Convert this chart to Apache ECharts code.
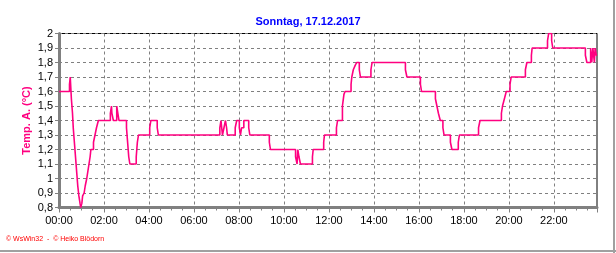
<!DOCTYPE html>
<html>
<head>
<meta charset="utf-8">
<script src="https://cdn.jsdelivr.net/npm/echarts@6/dist/echarts.min.js"></script>
<style>
html,body{margin:0;padding:0;background:#fff;}
#chart{width:616px;height:253px;}
</style>
</head>
<body>
<div id="chart"></div>
<script>
// Time of each change (minutes after midnight) and the value held from then on
const times = [0, 28, 30, 33, 36, 38, 41, 44, 47, 50, 53, 56, 58, 61, 63, 67, 70, 74, 77, 80, 83, 85, 92, 96, 100, 105,
  137, 140, 141, 145, 154, 157, 160, 180, 183, 186, 189, 206, 209, 212, 242, 245, 262, 265,
  429, 432, 436, 440, 444, 447, 449, 470, 474, 481, 484, 487, 493, 506, 509, 561, 564,
  631, 635, 637, 640, 644, 676, 678, 706, 708, 740, 743, 756, 760, 763, 779, 781, 785, 790, 794, 801, 804, 832, 835,
  924, 928, 964, 967, 1004, 1008, 1012, 1017, 1024, 1027, 1044, 1048, 1065, 1068, 1119, 1123,
  1180, 1183, 1188, 1193, 1203, 1206, 1244, 1248, 1260, 1262, 1303, 1306, 1314, 1317,
  1404, 1408, 1418, 1421, 1424, 1428, 1430, 1433, 1435];
const values = [1.6, 1.65, 1.7, 1.55, 1.45, 1.35, 1.25, 1.15, 1.05, 0.95, 0.88, 0.83, 0.8, 0.83, 0.88, 0.9, 0.95, 1.0, 1.05, 1.1, 1.15, 1.2, 1.25, 1.3, 1.35, 1.4,
  1.45, 1.5, 1.45, 1.4, 1.5, 1.45, 1.4, 1.35, 1.25, 1.15, 1.1, 1.15, 1.25, 1.3, 1.35, 1.4, 1.35, 1.3,
  1.35, 1.4, 1.3, 1.35, 1.4, 1.35, 1.3, 1.35, 1.4, 1.35, 1.3, 1.35, 1.4, 1.35, 1.3, 1.25, 1.2,
  1.15, 1.1, 1.2, 1.15, 1.1, 1.15, 1.2, 1.25, 1.3, 1.35, 1.4, 1.5, 1.58, 1.6, 1.65, 1.7, 1.75, 1.78, 1.8, 1.75, 1.7, 1.75, 1.8,
  1.75, 1.7, 1.65, 1.6, 1.55, 1.5, 1.45, 1.4, 1.35, 1.3, 1.25, 1.2, 1.25, 1.3, 1.35, 1.4,
  1.45, 1.5, 1.55, 1.6, 1.65, 1.7, 1.75, 1.8, 1.85, 1.9, 1.95, 2.0, 1.95, 1.9,
  1.85, 1.8, 1.9, 1.8, 1.9, 1.8, 1.9, 1.85, 1.85];
const titleText = 'Sonntag, 17.12.2017';
const yName = 'Temp. A. (°C)';
const copyright = '© WsWin32  -  © Heiko Blödorn';
const xMin = 0, xMax = 1435, xStep = 120;
const yMin = 0.8, yMax = 2, yStep = 0.1;

const pad = n => (n < 10 ? '0' : '') + n;
const data = times.map((t, i) => [t, values[i]]);

const chart = echarts.init(document.getElementById('chart'), null, {renderer: 'canvas'});
chart.setOption({
  animation: false,
  backgroundColor: '#fff',
  title: {
    text: titleText, left: 'center', top: 11,
    textStyle: {fontFamily: 'Liberation Sans', fontSize: 11, fontWeight: 'bold', color: '#0000ff'}
  },
  grid: {left: 59, right: 19, top: 33.5, bottom: 45.5, show: true, borderColor: '#000', borderWidth: 1, backgroundColor: 'transparent'},
  xAxis: {
    type: 'value', min: xMin, max: xMax, interval: xStep,
    axisLine: {show: true, onZero: false, lineStyle: {color: '#808080', width: 3}},
    axisTick: {show: true, length: 5, lineStyle: {color: '#808080', width: 1}},
    minorTick: {show: true, splitNumber: 4, length: 3, lineStyle: {color: '#808080', width: 1}},
    splitLine: {show: true, lineStyle: {color: '#808080', width: 1, type: [3, 3]}},
    axisLabel: {
      showMaxLabel: false, margin: 8, color: '#000', fontFamily: 'Liberation Sans', fontSize: 11,
      formatter: v => pad(Math.floor(v / 60)) + ':' + pad(v % 60)
    }
  },
  yAxis: {
    type: 'value', min: yMin, max: yMax, interval: yStep,
    name: yName, nameLocation: 'middle', nameGap: 27, nameRotate: 90, nameMoveOverlap: false,
    nameTextStyle: {color: '#ff0080', fontFamily: 'Liberation Sans', fontSize: 11, fontWeight: 'bold'},
    axisLine: {show: true, onZero: false, lineStyle: {color: '#808080', width: 3}},
    axisTick: {show: true, length: 4, lineStyle: {color: '#808080', width: 1}},
    splitLine: {show: true, lineStyle: {color: '#808080', width: 1, type: [3, 3]}},
    axisLabel: {
      margin: 6, color: '#000', fontFamily: 'Liberation Sans', fontSize: 11,
      formatter: v => { const r = Math.round(v * 10) / 10; return Number.isInteger(r) ? String(r) : r.toFixed(1).replace('.', ','); }
    }
  },
  series: [{
    type: 'line', step: 'end', data: data, symbol: 'none',
    lineStyle: {color: '#ff0080', width: 1.6}
  }],
  graphic: [
    {type: 'text', left: 6, top: 236, style: {text: copyright, fill: '#ff0000', font: '7px "Liberation Sans"'}},
    {type: 'rect', shape: {x: 613, y: 0, width: 2, height: 253}, style: {fill: '#a0a0a0'}},
    {type: 'rect', shape: {x: 0, y: 250, width: 616, height: 2}, style: {fill: '#a0a0a0'}}
  ]
});
</script>
</body>
</html>
